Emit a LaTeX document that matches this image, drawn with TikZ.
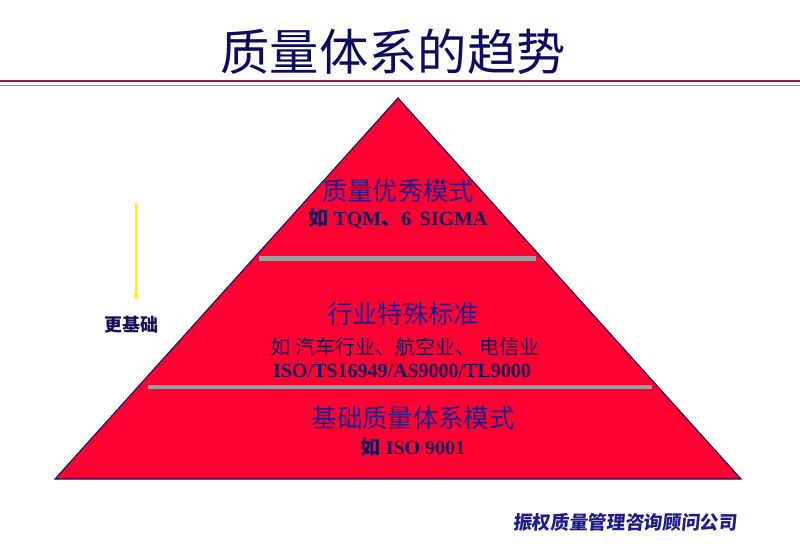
\documentclass[tikz,border=0pt]{standalone}
\usepackage{fontspec}
\setmainfont{Liberation Serif}
\newfontfamily\cjk{Noto Sans CJK SC}
\usetikzlibrary{arrows.meta}
\definecolor{pyrred}{RGB}{255,0,51}
\definecolor{titlenavy}{RGB}{12,12,96}
\definecolor{headblue}{RGB}{32,28,140}
\definecolor{subnavy}{RGB}{22,18,90}
\definecolor{rulered}{RGB}{160,20,70}
\definecolor{barg}{RGB}{160,160,160}
\definecolor{arrowy}{RGB}{255,240,0}
\tikzset{
  headtxt/.style={text=headblue, font=\cjk\fontsize{19}{21}\selectfont, inner sep=0pt},
  subtxt/.style={text=subnavy, font=\bfseries\fontsize{15}{17}\selectfont, inner sep=0pt},
  bar/.style={draw=barg, line width=3.5pt},
}
\begin{document}
\begin{tikzpicture}[x=0.75pt,y=-0.75pt]
\useasboundingbox[fill=white] (0,0) rectangle (800,553);
% title
\node[text=titlenavy, font=\cjk\fontsize{37}{39}\selectfont, inner sep=0pt] (title) at (393,52) {质量体系的趋势};
\draw[rulered, line width=1pt] (0,81) -- (800,81);
\draw[black!45, line width=1.2pt] (0,85.5) -- (800,85.5);
% pyramid
\coordinate (apex) at (398,98);
\coordinate (bl) at (55,479);
\coordinate (br) at (741,479);
\draw[fill=pyrred, draw=subnavy, line width=0.8pt] (apex) -- (br) -- (bl) -- cycle;
\coordinate (b1l) at (259,258.5); \coordinate (b1r) at (536,258.5);
\coordinate (b2l) at (148,387); \coordinate (b2r) at (652,387);
\draw[bar] (b1l) -- (b1r);
\draw[bar] (b2l) -- (b2r);
% texts
\node[headtxt] (h1) at (398,191) {质量优秀模式};
\node[subtxt] (s1) at (398,219) {{\cjk 如} TQM{\cjk 、}6\, SIGMA};
\node[headtxt] (h2) at (403,314) {行业特殊标准};
\node[subtxt, font=\cjk\fontsize{15}{17}\selectfont] (s2) at (405,347) {如 汽车行业、航空业、 电信业};
\node[subtxt] (s3) at (402,371) {ISO/TS16949/AS9000/TL9000};
\node[headtxt] (h3) at (413,418) {基础质量体系模式};
\node[subtxt] (s4) at (413,447) {{\cjk 如} ISO 9001};
% side arrow
\coordinate (ya) at (136,203);
\coordinate (yb) at (136,300);
\draw[arrowy, line width=0.8pt, -{Stealth[length=5pt,width=4pt]}] (ya) -- (yb);
\node[text=subnavy, font=\cjk\bfseries\fontsize{13.5}{15}\selectfont, inner sep=0pt] (side) at (131,325) {更基础};
% footer
\node[text=headblue, font=\cjk\bfseries\fontsize{14}{16}\selectfont, inner sep=0pt, xslant=0.1] (foot) at (626,522) {振权质量管理咨询顾问公司};
\end{tikzpicture}
\end{document}
